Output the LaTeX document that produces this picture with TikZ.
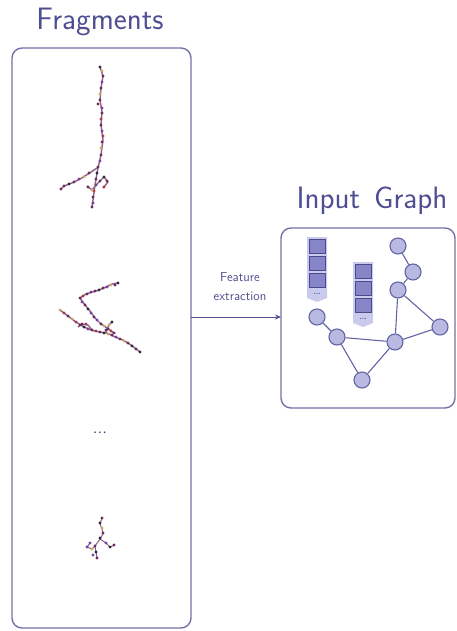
\documentclass[tikz,border=0pt]{standalone}
\usetikzlibrary{arrows.meta}
\definecolor{struct}{HTML}{4E4E92}
\definecolor{frame}{HTML}{7272A8}
\definecolor{nodefill}{HTML}{B9B9E2}
\definecolor{nodeline}{HTML}{6464A4}
\definecolor{sqfill}{HTML}{8585C8}
\definecolor{sqline}{HTML}{4A4A8C}
\definecolor{barfill}{HTML}{CACAEC}
\definecolor{atomA}{HTML}{6B2B5E}
\definecolor{atomB}{HTML}{C9A862}
\definecolor{atomC}{HTML}{7A3FA0}
\definecolor{atomD}{HTML}{2A2A3A}
\definecolor{atomE}{HTML}{A83A4A}
\tikzset{
  panel/.style={draw=frame, line width=1.4pt, rounded corners=10pt},
  title/.style={text=struct, font=\sffamily\fontsize{31}{34}\selectfont},
  vtx/.style={circle, draw=nodeline, fill=nodefill, line width=1.1pt, minimum size=16pt, inner sep=0pt},
  link/.style={draw=nodeline, line width=1.1pt},
  cell/.style={draw=sqline, fill=sqfill, line width=0.6pt},
  bar/.style={fill=barfill},
  atom/.style={circle, inner sep=0pt, minimum size=3.3pt},
  bond/.style={draw=atomA!75, line width=1.4pt, line join=round},
}
% chain of atoms along a list of points
\newcommand{\molchain}[1]{%
  \foreach \px/\py/\c in {#1}{\node[atom, fill=\c] at (\px,\py) {};}}
% feature column: x-left, y-top of the three cells
\newcommand{\featcol}[2]{%
  \begin{scope}[shift={(#1,#2)}]
    \path[bar] (-2,-2) -- (18,-2) -- (18,59) -- (8,63) -- (-2,59) -- cycle;
    \foreach \k in {0,1,2}{\draw[cell] (0,\k*17) rectangle (16,\k*17+14);}
    \node[text=struct, font=\sffamily\bfseries\fontsize{8}{8}\selectfont] at (8,54.5) {...};
  \end{scope}}
\begin{document}
\begin{tikzpicture}[x=1pt, y=-1pt]
\useasboundingbox (0,0) rectangle (457,631);

% panels and titles
\draw[panel] (12,48) rectangle (191,628);
\node[title] (fragtitle) at (100,22) {Fragments};
\draw[panel] (281,228) rectangle (455,408);
\node[title] (graphtitle) at (372,201) {Input\hspace{14pt}Graph};

% connector with its label
\coordinate (src) at (191,317);
\coordinate (dst) at (281,317);
\draw[draw=struct, line width=0.9pt, -{Stealth[length=6pt,width=5pt]}] (src) -- (dst);
\node[text=struct, font=\sffamily\fontsize{13}{19}\selectfont, align=center] (lab) at (240,287) {Feature\\extraction};

% fragment 1
\draw[bond]
  (100,67) -- (103,76) -- (101,88) -- (100,100) -- (102,112) -- (101,125) -- (103,140) -- (101,155) -- (98,168) -- (95,185) -- (93,200) -- (92,207);
\draw[bond]
  (97,168) -- (88,174) -- (80,179) -- (72,183) -- (64,186) -- (61,189);
\draw[bond]
  (87,186) -- (92,190) -- (98,183) -- (104,177) -- (108,182) -- (103,188);
\molchain{100/67/atomD, 102/71/atomB, 103/76/atomA, 102/82/atomC, 101/88/atomA, 100/94/atomB, 100/100/atomA,
  98/104/atomA, 102/108/atomC, 102/113/atomA, 101/119/atomE, 101/125/atomA, 102/131/atomC, 103/136/atomE,
  102/142/atomA, 101/148/atomB, 101/155/atomA, 100/161/atomC, 98/167/atomA, 97/173/atomD, 96/179/atomA,
  95/185/atomB, 94/191/atomE, 93/197/atomA, 93/203/atomC, 92/207/atomA,
  89/173/atomA, 84/177/atomB, 79/179/atomC, 74/182/atomA, 69/184/atomD, 64/186/atomA, 61/189/atomA,
  88/187/atomA, 92/190/atomB, 96/185/atomC, 100/181/atomA, 104/177/atomD, 107/181/atomA, 104/187/atomE}

% fragment 2
\draw[bond]
  (118,283) -- (112,284) -- (104,288) -- (96,291) -- (86,294) -- (80,298) -- (85,305) -- (90,311) -- (95,318) -- (100,323) -- (107,328) -- (114,333);
\draw[bond]
  (60,310) -- (68,316) -- (76,322) -- (84,327) -- (91,330) -- (99,332) -- (107,333) -- (115,337) -- (123,340) -- (131,345) -- (140,352);
\draw[bond]
  (78,327) -- (82,324) -- (88,325) -- (92,330);
\draw[bond]
  (106,332) -- (109,325) -- (112,322);
\molchain{118/283/atomD, 115/285/atomA, 111/285/atomB, 107/287/atomC, 103/288/atomA, 99/290/atomD, 95/291/atomA,
  91/292/atomC, 87/294/atomA, 83/296/atomE, 80/298/atomA, 82/302/atomC, 85/305/atomA, 88/309/atomD,
  91/313/atomC, 94/317/atomA, 97/320/atomC, 101/324/atomA, 104/326/atomB, 108/329/atomA, 111/331/atomE, 114/333/atomA,
  60/310/atomB, 64/313/atomE, 68/316/atomA, 72/319/atomB, 76/322/atomE, 80/325/atomA, 84/327/atomD,
  88/329/atomC, 92/330/atomA, 96/331/atomE, 100/332/atomA, 104/333/atomD, 108/334/atomB, 112/335/atomA,
  116/337/atomC, 120/339/atomA, 124/341/atomB, 128/343/atomA, 132/346/atomD, 136/349/atomA, 140/352/atomD,
  82/324/atomA, 86/324/atomE, 106/330/atomA, 109/325/atomB, 112/322/atomD}

% ellipsis between fragments
\node[text=struct!80!black, font=\sffamily\fontsize{18}{18}\selectfont] (more) at (100,433) {...};

% fragment 3
\draw[bond, line width=1pt]
  (102,518) -- (100,524) -- (102,529) -- (103,534) -- (100,539) -- (106,543) -- (110,547) -- (115,545);
\draw[bond, line width=1pt]
  (100,539) -- (95,546) -- (96,552) -- (97,558);
\draw[bond, line width=1pt]
  (90,543) -- (87,547) -- (92,549) -- (95,546);
\molchain{102/518/atomA, 100/523/atomD, 102/528/atomB, 103/533/atomA, 100/538/atomD, 106/543/atomC,
  110/547/atomD, 114/545/atomA, 90/543/atomC, 87/547/atomC, 92/549/atomB, 95/546/atomA,
  96/552/atomD, 97/558/atomA, 93/555/atomC}

% feature columns
\featcol{309}{239}
\featcol{355}{264}

% input graph
\node[vtx] (a) at (398,246) {};
\node[vtx] (b) at (413,272) {};
\node[vtx] (c) at (398,290) {};
\node[vtx] (d) at (440,327) {};
\node[vtx] (e) at (395,342) {};
\node[vtx] (f) at (362,380) {};
\node[vtx] (g) at (337,337) {};
\node[vtx] (h) at (317,317) {};
\draw[link] (a) -- (b) (b) -- (c) (c) -- (d) (c) -- (e) (e) -- (d)
  (e) -- (f) (f) -- (g) (g) -- (e) (h) -- (g);
\end{tikzpicture}
\end{document}
